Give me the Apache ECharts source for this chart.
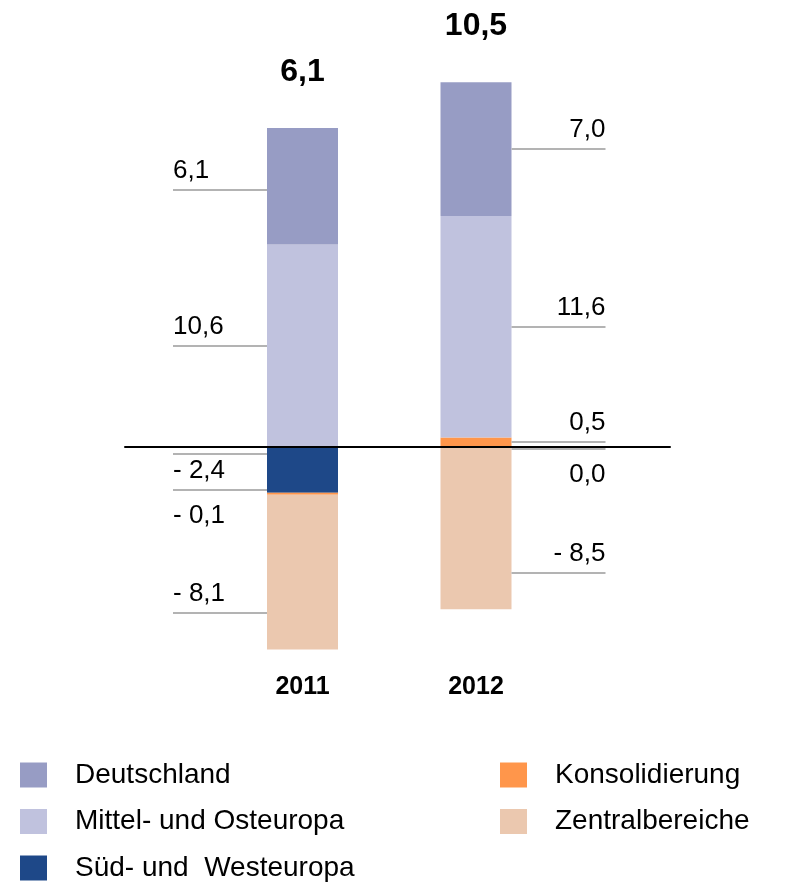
<!DOCTYPE html>
<html>
<head>
<meta charset="utf-8">
<script src="https://cdn.jsdelivr.net/npm/echarts@6/dist/echarts.min.js"></script>
<style>html,body{margin:0;padding:0;background:#fff}#c{width:785px;height:885px}</style>
</head>
<body>
<div id="c"></div>
<script>
const categories = ['2011', '2012'];
const deutschland = [6.1, 7.0];
const mittelOsteuropa = [10.6, 11.6];
const suedWesteuropa = [-2.4, 0.0];
const konsolidierung = [-0.1, 0.5];
const zentralbereiche = [-8.1, -8.5];
const totals = [6.1, 10.5];

// leader-line annotations: [categoryIndex, anchor value on y scale, label value (or null), label placement]
const annotations = [
  [0, 13.45, deutschland[0], 'above'],
  [0, 5.3, mittelOsteuropa[0], 'above'],
  [0, -0.37, null, 'above'],
  [0, -2.27, suedWesteuropa[0], 'above'],
  [0, -2.27, konsolidierung[0], 'below'],
  [0, -8.7, zentralbereiche[0], 'above'],
  [1, 15.6, deutschland[1], 'above'],
  [1, 6.3, mittelOsteuropa[1], 'above'],
  [1, 0.25, konsolidierung[1], 'above'],
  [1, -0.1, suedWesteuropa[1], 'below'],
  [1, -6.6, zentralbereiche[1], 'above']
];

const colors = {
  de: '#979cc4', moe: '#c0c2de', swe: '#1e4888', kons: '#ff964b', zen: '#ebc8af'
};
const FONT = '"Liberation Sans", Arial, sans-serif';
function fmt(v) {
  return (v < 0 ? '- ' : '') + Math.abs(v).toFixed(1).replace('.', ',');
}
const BAR_W = 71;
const LEADER = 94;

const chart = echarts.init(document.getElementById('c'), null, {renderer: 'canvas'});

function barSeries(name, data, color, extra) {
  return Object.assign({
    name: name, type: 'bar', stack: 'total', data: data,
    xAxisIndex: 0, yAxisIndex: 0,
    barWidth: BAR_W, itemStyle: {color: color},
    emphasis: {disabled: true}, animation: false
  }, extra || {});
}

const legendText = {color: '#000', fontSize: 28, lineHeight: 25, fontFamily: FONT, padding: [0, 0, 0, 23]};

const option = {
  animation: false,
  textStyle: {fontFamily: FONT},
  grid: [
    {left: 215.75, right: 222.25, top: 65, bottom: 227.9, containLabel: false},
    {left: 125, right: 115, top: 65, bottom: 227.9, containLabel: false}
  ],
  xAxis: [
    {
      type: 'category', gridIndex: 0, data: categories,
      axisLine: {show: false}, axisTick: {show: false}, splitLine: {show: false},
      axisLabel: {color: '#000', fontSize: 25, fontWeight: 'bold', fontFamily: FONT, margin: 18}
    },
    {
      type: 'value', gridIndex: 1, min: 0, max: 1, z: 5,
      axisLine: {show: true, onZero: true, lineStyle: {color: '#000', width: 2}},
      axisTick: {show: false}, axisLabel: {show: false}, splitLine: {show: false}
    }
  ],
  yAxis: [
    {type: 'value', gridIndex: 0, min: -11, max: 20, show: false, splitLine: {show: false}},
    {type: 'value', gridIndex: 1, min: -11, max: 20, show: false, splitLine: {show: false}}
  ],
  legend: [
    {
      orient: 'horizontal', left: 20, top: 761, width: 300, padding: 0,
      itemWidth: 27, itemHeight: 25, itemGap: 18.5, icon: 'rect',
      selectedMode: false,
      data: ['Deutschland', 'Mittel- und Osteuropa', 'Süd- und  Westeuropa'],
      textStyle: legendText
    },
    {
      orient: 'horizontal', left: 500, top: 761, width: 270, padding: 0,
      itemWidth: 27, itemHeight: 25, itemGap: 18.5, icon: 'rect',
      selectedMode: false,
      data: ['Konsolidierung', 'Zentralbereiche'],
      textStyle: legendText
    }
  ],
  series: [
    barSeries('Süd- und  Westeuropa', suedWesteuropa, colors.swe),
    barSeries('Konsolidierung', konsolidierung, colors.kons),
    barSeries('Mittel- und Osteuropa', mittelOsteuropa, colors.moe),
    barSeries('Deutschland', deutschland, colors.de, {
      label: {
        show: true, position: 'top', distance: 40,
        formatter: function (p) { return fmt(totals[p.dataIndex]); },
        color: '#000', fontSize: 32, fontWeight: 'bold', fontFamily: FONT
      }
    }),
    barSeries('Zentralbereiche', zentralbereiche, colors.zen),
    {
      type: 'custom', name: 'annotations', xAxisIndex: 0, yAxisIndex: 0,
      silent: true, animation: false, z: 6, clip: false,
      data: annotations.map(function (a) { return [a[0], a[1]]; }),
      renderItem: function (params, api) {
        const a = annotations[params.dataIndex];
        const pt = api.coord([api.value(0), api.value(1)]);
        const y = Math.round(pt[1]);
        const left = a[0] === 0;
        const x1 = left ? pt[0] - BAR_W / 2 - LEADER : pt[0] + BAR_W / 2;
        const x2 = x1 + LEADER;
        const children = [{
          type: 'line',
          shape: {x1: x1, y1: y, x2: x2, y2: y},
          style: {stroke: '#b3b3b3', lineWidth: 2}
        }];
        if (a[2] !== null) {
          children.push({
            type: 'text',
            x: left ? x1 : x2,
            y: a[3] === 'above' ? y - 19 : y + 26,
            style: {
              text: fmt(a[2]), fill: '#000', fontSize: 26, fontFamily: FONT,
              align: left ? 'left' : 'right', verticalAlign: 'middle'
            }
          });
        }
        return {type: 'group', children: children};
      }
    },
    {type: 'line', xAxisIndex: 1, yAxisIndex: 1, data: [], silent: true}
  ]
};
chart.setOption(option);
</script>
</body>
</html>
